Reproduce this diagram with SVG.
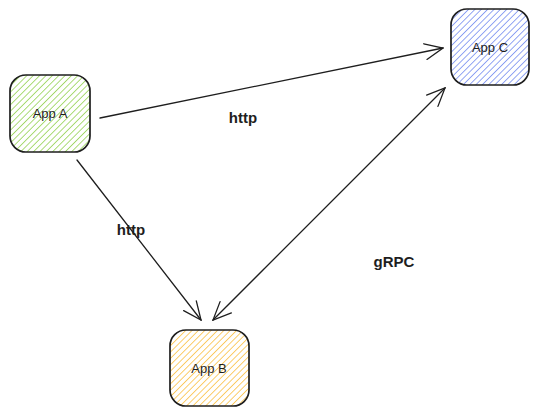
<svg xmlns="http://www.w3.org/2000/svg" width="537" height="415" viewBox="0 0 537 415">
<style>
.box{stroke:#1e1e1e;stroke-width:1.7;}
.lbl{font-family:"Liberation Sans",Arial,sans-serif;font-size:13px;fill:#1e1e1e;text-anchor:middle;}
.elbl{font-family:"Liberation Sans",Arial,sans-serif;font-size:15px;font-weight:bold;fill:#1e1e1e;text-anchor:middle;}
.conn{stroke:#1e1e1e;stroke-width:1.3;fill:none;stroke-linecap:round;}
</style>
<defs>
<pattern id="hg" patternUnits="userSpaceOnUse" width="4.5" height="4.5" patternTransform="rotate(45)">
<line x1="0" y1="0" x2="0" y2="5" stroke="#8fd04a" stroke-width="1.5"/>
</pattern>
<pattern id="hb" patternUnits="userSpaceOnUse" width="4.5" height="4.5" patternTransform="rotate(45)">
<line x1="0" y1="0" x2="0" y2="5" stroke="#7088f0" stroke-width="1.5"/>
</pattern>
<pattern id="hy" patternUnits="userSpaceOnUse" width="4.5" height="4.5" patternTransform="rotate(45)">
<line x1="0" y1="0" x2="0" y2="5" stroke="#fbbd3a" stroke-width="1.5"/>
</pattern>
<marker id="ah" viewBox="0 0 20 20" refX="19" refY="10" markerWidth="20" markerHeight="20" markerUnits="userSpaceOnUse" orient="auto-start-reverse">
<path d="M1,2 L19,10 L1,18" fill="none" stroke="#1e1e1e" stroke-width="1.3" stroke-linecap="round"/>
</marker>
</defs>
<g id="connectors">
<line class="conn" x1="100" y1="118" x2="443" y2="48" marker-end="url(#ah)"/>
<line class="conn" x1="77" y1="160" x2="201" y2="320" marker-end="url(#ah)"/>
<line class="conn" x1="213" y1="320" x2="445" y2="88" marker-start="url(#ah)" marker-end="url(#ah)"/>
<text class="elbl" x="243" y="123">http</text>
<text class="elbl" x="131" y="235">http</text>
<text class="elbl" x="394" y="267">gRPC</text>
</g>
<g id="app-a">
<rect class="box" x="10" y="75" width="80" height="77" rx="16" fill="url(#hg)"/>
<text class="lbl" x="50" y="118">App A</text>
</g>
<g id="app-c">
<rect class="box" x="451" y="9" width="78" height="76" rx="16" fill="url(#hb)"/>
<text class="lbl" x="490" y="52">App C</text>
</g>
<g id="app-b">
<rect class="box" x="170" y="330" width="79" height="76" rx="16" fill="url(#hy)"/>
<text class="lbl" x="209" y="373">App B</text>
</g>
</svg>
